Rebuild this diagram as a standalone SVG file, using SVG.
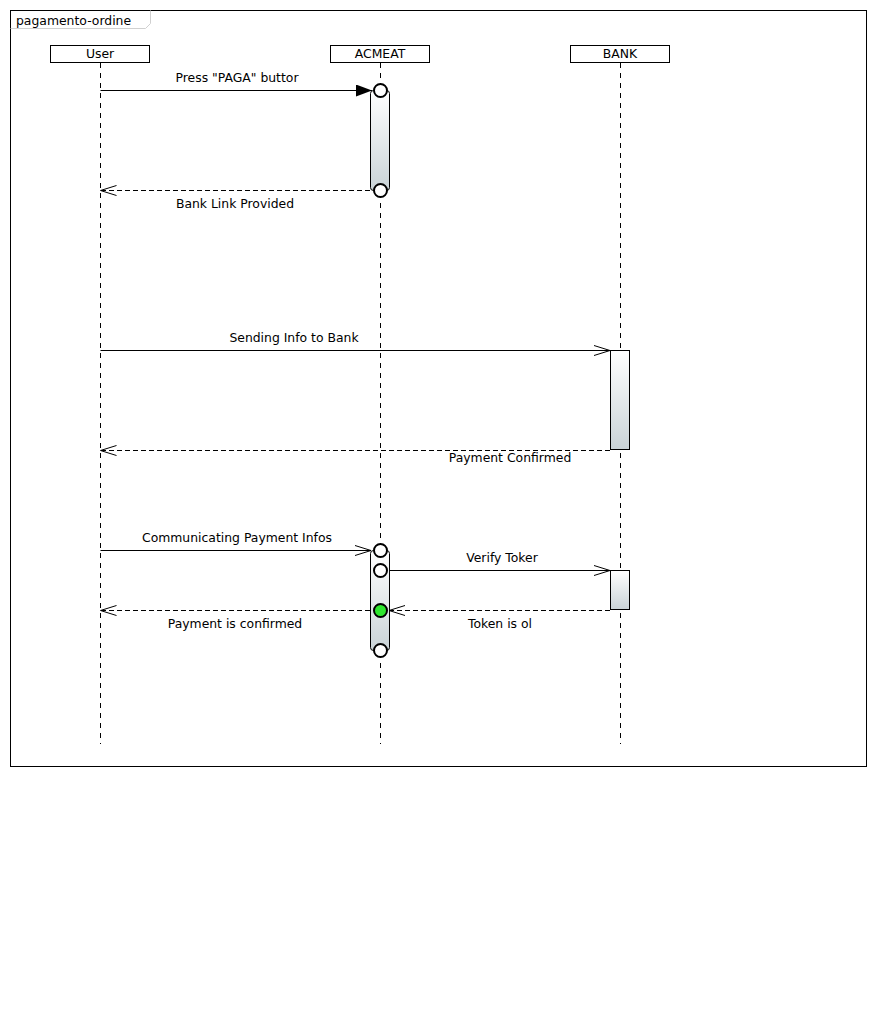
<svg xmlns="http://www.w3.org/2000/svg" width="877" height="1020" viewBox="0 0 877 1020">
<defs>
<linearGradient id="act" x1="0" y1="0" x2="0" y2="1">
<stop offset="0" stop-color="#ffffff"/>
<stop offset="1" stop-color="#c9d3d7"/>
</linearGradient>
<marker id="filled" viewBox="0 0 16 12" refX="16" refY="6" markerWidth="16" markerHeight="12" markerUnits="userSpaceOnUse" orient="auto">
<path d="M0,0 L16,6 L0,12 Z" fill="#000"/>
</marker>
<marker id="open" viewBox="0 0 18 12" refX="17" refY="6" markerWidth="18" markerHeight="12" markerUnits="userSpaceOnUse" orient="auto">
<path d="M1,1 L17,6 L1,11" fill="none" stroke="#000" stroke-width="1"/>
</marker>
</defs>
<style>
text{font-family:"DejaVu Sans","Liberation Sans",sans-serif;font-size:12.4px;fill:#000}
.head{fill:#fff;stroke:#000;stroke-width:1}
.life{stroke:#000;stroke-width:1;stroke-dasharray:5,5}
.msg{stroke:#000;stroke-width:1;fill:none}
.ret{stroke:#000;stroke-width:1;fill:none;stroke-dasharray:5,3}
.act{fill:url(#act);stroke:#000;stroke-width:1}
.dot{fill:#fff;stroke:#000;stroke-width:2}
</style>
<rect width="877" height="1020" fill="#fff"/>
<g id="frame">
<rect x="10.5" y="10.5" width="856" height="756" fill="none" stroke="#000"/>
<path d="M10.5,28.5 H145.5 L150.5,23.5 V10.5" fill="none" stroke="#d0d0d0"/>
<text x="16" y="25">pagamento-ordine</text>
</g>
<g id="User">
<rect class="head" x="50.5" y="45.5" width="99" height="17"/>
<text x="100" y="58" text-anchor="middle">User</text>
<line class="life" x1="100.5" y1="63" x2="100.5" y2="744"/>
</g>
<g id="ACMEAT">
<rect class="head" x="330.5" y="45.5" width="99" height="17"/>
<text x="380" y="58" text-anchor="middle">ACMEAT</text>
<line class="life" x1="380.5" y1="63" x2="380.5" y2="744"/>
<rect class="act" x="370.5" y="90.5" width="19" height="100" rx="3"/>
<rect class="act" x="370.5" y="550.5" width="19" height="100" rx="3"/>
</g>
<g id="BANK">
<rect class="head" x="570.5" y="45.5" width="99" height="17"/>
<text x="620" y="58" text-anchor="middle">BANK</text>
<line class="life" x1="620.5" y1="63" x2="620.5" y2="744"/>
<rect class="act" x="610.5" y="350.5" width="19" height="99"/>
<rect class="act" x="610.5" y="570.5" width="19" height="39"/>
</g>
<g id="connectors">
<line class="msg" x1="100.5" y1="90.5" x2="372" y2="90.5" marker-end="url(#filled)"/>
<text x="237" y="82" text-anchor="middle">Press "PAGA" buttor</text>
<line class="ret" x1="370" y1="190.5" x2="100.5" y2="190.5" marker-end="url(#open)"/>
<text x="235" y="208" text-anchor="middle">Bank Link Provided</text>
<line class="msg" x1="100.5" y1="350.5" x2="610" y2="350.5" marker-end="url(#open)"/>
<text x="294" y="342" text-anchor="middle">Sending Info to Bank</text>
<line class="ret" x1="610" y1="450.5" x2="100.5" y2="450.5" marker-end="url(#open)"/>
<text x="510" y="462" text-anchor="middle">Payment Confirmed</text>
<line class="msg" x1="100.5" y1="550.5" x2="371" y2="550.5" marker-end="url(#open)"/>
<text x="237" y="542" text-anchor="middle">Communicating Payment Infos</text>
<line class="msg" x1="389" y1="570.5" x2="610" y2="570.5" marker-end="url(#open)"/>
<text x="502" y="562" text-anchor="middle">Verify Toker</text>
<line class="ret" x1="610" y1="610.5" x2="389" y2="610.5" marker-end="url(#open)"/>
<text x="500" y="628" text-anchor="middle">Token is ol</text>
<line class="ret" x1="370" y1="610.5" x2="100.5" y2="610.5" marker-end="url(#open)"/>
<text x="235" y="628" text-anchor="middle">Payment is confirmed</text>
</g>
<g id="points">
<circle class="dot" cx="380.5" cy="90.5" r="6.5"/>
<circle class="dot" cx="380.5" cy="190.5" r="6.5"/>
<circle class="dot" cx="380.5" cy="550.5" r="6.5"/>
<circle class="dot" cx="380.5" cy="570.5" r="6.5"/>
<circle class="dot" cx="380.5" cy="610.5" r="6.5" style="fill:#2ee62e"/>
<circle class="dot" cx="380.5" cy="650.5" r="6.5"/>
</g>
</svg>
